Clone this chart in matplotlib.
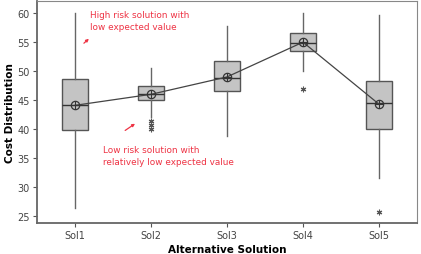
import matplotlib
matplotlib.use("Agg")
import matplotlib.pyplot as plt

categories = ["Sol1", "Sol2", "Sol3", "Sol4", "Sol5"]
whisker_low = [26.4, 42.1, 38.8, 50.0, 31.6]
q1 = [39.8, 45.0, 46.6, 53.4, 40.0]
medians = [44.2, 46.1, 48.9, 54.8, 44.5]
q3 = [48.7, 47.4, 51.7, 56.6, 48.3]
whisker_high = [60.0, 50.5, 57.8, 60.0, 59.7]
means = [44.1, 46.0, 49.0, 55.0, 44.3]
outliers = [[], [41.4, 40.7, 40.0], [], [46.9], [25.7]]

y_ticks = [25, 30, 35, 40, 45, 50, 55, 60]

fig = plt.figure(figsize=(4.21, 2.55), dpi=100)
ax = fig.add_axes([37/421, 31/255, 380/421, 222/255])

stats = []
for i in range(len(categories)):
    stats.append(dict(med=medians[i], q1=q1[i], q3=q3[i],
                      whislo=whisker_low[i], whishi=whisker_high[i],
                      fliers=outliers[i], label=categories[i]))

pos = list(range(1, len(categories) + 1))
ax.bxp(stats, positions=pos, widths=0.34, showfliers=True, patch_artist=True,
       boxprops=dict(facecolor="#c4c4c4", edgecolor="#555555", linewidth=1.0),
       whiskerprops=dict(color="#666666", linewidth=1.0),
       capprops=dict(linewidth=0),
       medianprops=dict(color="#333333", linewidth=1.0),
       flierprops=dict(marker=(6, 2, 0), markersize=4, markeredgecolor="#555555",
                       markeredgewidth=0.8, linestyle="none"))

ax.plot(pos, means, color="#444444", linewidth=0.9, zorder=4)
ax.plot(pos, means, linestyle="none", marker="o", markersize=6,
        markerfacecolor="none", markeredgecolor="#333333", markeredgewidth=0.9, zorder=5)
ax.plot(pos, means, linestyle="none", marker="+", markersize=6,
        markeredgecolor="#333333", markeredgewidth=0.8, zorder=5)

ax.set_xlim(0.5, 5.5)
ax.set_ylim(23.8, 62.1)
ax.set_yticks(y_ticks)
ax.set_xticks(pos)
ax.set_xticklabels(categories)
ax.tick_params(axis="both", labelsize=7, colors="#555555", labelcolor="#444444",
               length=3, width=0.8, pad=2)

for s in ax.spines.values():
    s.set_color("#888888")
    s.set_linewidth(0.8)
ax.spines["left"].set_color("#666666")
ax.spines["bottom"].set_color("#666666")
ax.spines["left"].set_linewidth(1.3)
ax.spines["bottom"].set_linewidth(1.3)

ax.set_xlabel("Alternative Solution", fontsize=7.5, fontweight="bold", labelpad=3)
ax.set_ylabel("Cost Distribution", fontsize=7.5, fontweight="bold", labelpad=2)

red = "#ee3344"
ax.text(1.2, 58.7, "High risk solution with\nlow expected value", color=red,
        fontsize=6.4, ha="left", va="center", linespacing=1.45)
ax.annotate("", xy=(1.21, 55.9), xytext=(1.09, 54.5),
            arrowprops=dict(arrowstyle="-|>", color=red, lw=0.9, mutation_scale=4))
ax.text(1.37, 35.4, "Low risk solution with\nrelatively low expected value", color=red,
        fontsize=6.4, ha="left", va="center", linespacing=1.45)
ax.annotate("", xy=(1.82, 41.2), xytext=(1.63, 39.5),
            arrowprops=dict(arrowstyle="-|>", color=red, lw=0.9, mutation_scale=4))

fig.savefig("out.png", dpi=100)
